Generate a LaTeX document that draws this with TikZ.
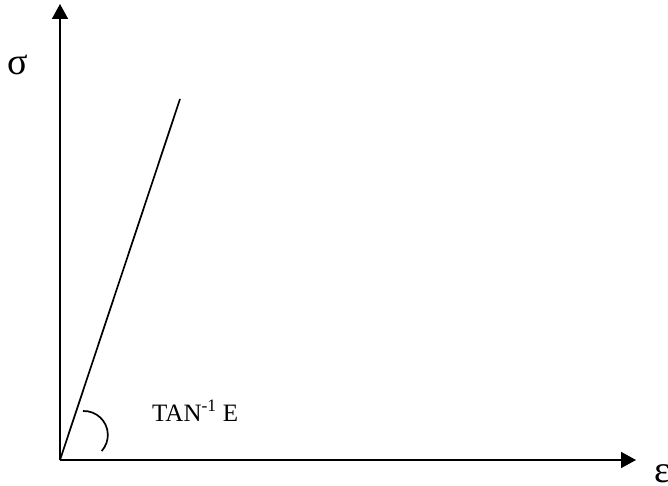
\documentclass[tikz,border=0pt]{standalone}
\usepackage{fontspec}
\setmainfont{Liberation Serif}
\usetikzlibrary{arrows.meta}
\tikzset{
  axis/.style={line width=1.7pt, -{Triangle[length=15pt,width=16pt]}},
  curve/.style={line width=1.7pt},
  greek/.style={inner sep=0pt, font=\fontsize{38}{42}\selectfont},
  lbl/.style={inner sep=0pt, anchor=base west, font=\fontsize{25}{29}\selectfont}
}
\begin{document}
\begin{tikzpicture}[x=1pt,y=-1pt]
\useasboundingbox (0,0) rectangle (668,486);
\coordinate (O) at (60,460);
\coordinate (ytop) at (60,4);
\coordinate (xend) at (636,460);
\coordinate (P) at (180,99);
\coordinate (arcstart) at (83,411);
\draw[axis] (O) -- (ytop);
\draw[axis] (O) -- (xend);
\draw[curve] (O) -- (P);
\draw[curve] (arcstart) arc[start angle=92, end angle=-42, radius=24pt];
\node[greek] (sigma) at (17.5,65) {σ};
\node[greek, anchor=west] (eps) at (654,474) {ε};
\node[lbl] (tan) at (152,421) {TAN\textsuperscript{-1} E};
\end{tikzpicture}
\end{document}
